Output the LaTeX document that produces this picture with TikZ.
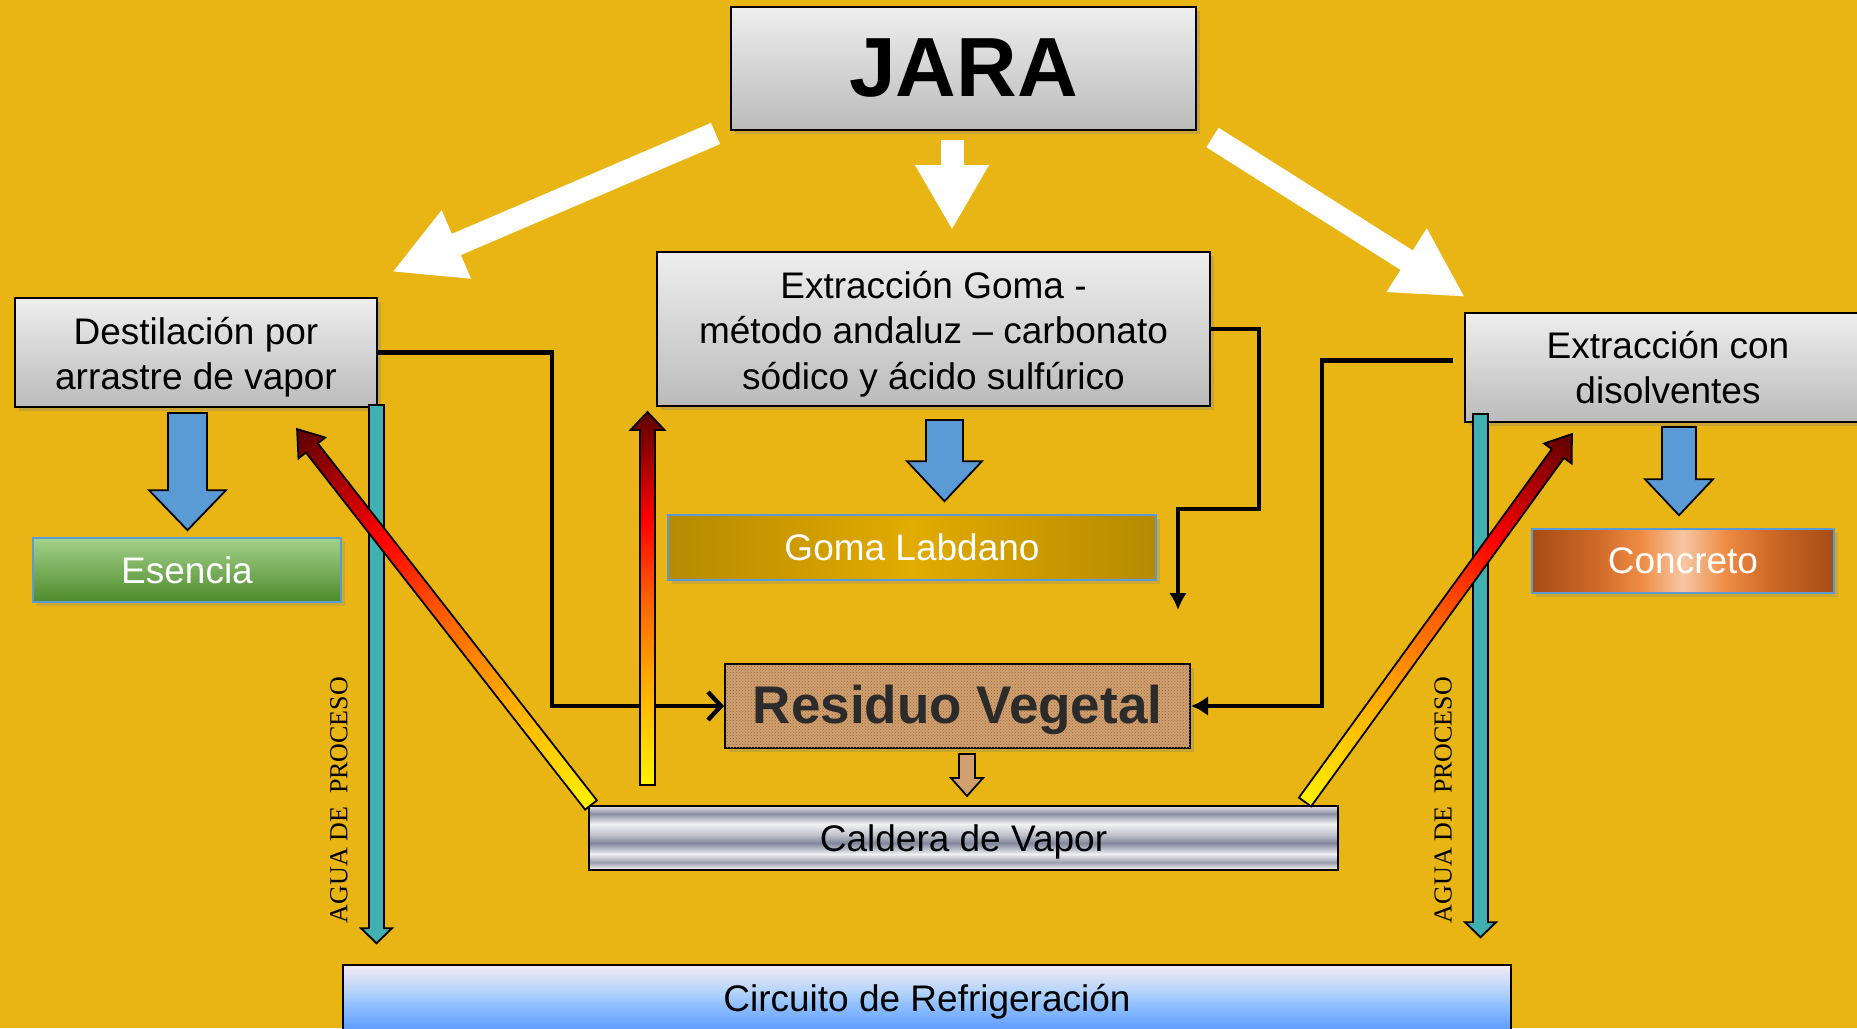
\documentclass[tikz,border=0pt]{standalone}
\usepackage{fontspec}
\setmainfont{Liberation Sans}
\newfontfamily\aguafont{Liberation Serif}
\usetikzlibrary{arrows.meta,calc,shadows,patterns}

\definecolor{fondo}{HTML}{E8B514}
\definecolor{cajatop}{HTML}{EEEEEE}
\definecolor{cajabot}{HTML}{BBBBBB}
\definecolor{marco}{HTML}{5B9BD5}
\definecolor{esentop}{HTML}{A3D18A}
\definecolor{esenbot}{HTML}{4E8A2C}
\definecolor{labedge}{HTML}{B68A00}
\definecolor{labmid}{HTML}{E2AB00}
\definecolor{corcho}{HTML}{D0A070}
\definecolor{corchodark}{HTML}{9A6A3E}
\definecolor{azulflecha}{HTML}{5B9BD5}
\definecolor{agua}{HTML}{40B0B0}
\definecolor{textoresiduo}{HTML}{2B2B2B}
\definecolor{cal1}{HTML}{FFF200}
\definecolor{cal2}{HTML}{FFA500}
\definecolor{cal3}{HTML}{FF6000}
\definecolor{cal4}{HTML}{FF0000}
\definecolor{cal5}{HTML}{5C0000}
\definecolor{conc1}{HTML}{A54C14}
\definecolor{conc2}{HTML}{D06A28}
\definecolor{conc3}{HTML}{EE8C44}
\definecolor{conc4}{HTML}{F7C6A3}
\definecolor{ac1}{HTML}{E4E4EA}
\definecolor{ac2}{HTML}{8A8EA0}
\definecolor{ac3}{HTML}{F2F2F4}
\definecolor{ac4}{HTML}{C0C2CC}
\definecolor{ac5}{HTML}{80859A}
\definecolor{ac6}{HTML}{F0F0F2}
\definecolor{ac7}{HTML}{9A9EAE}
\definecolor{ac8}{HTML}{FFFFFF}
\definecolor{fr1}{HTML}{F5E9F5}
\definecolor{fr2}{HTML}{B4D4FA}
\definecolor{fr3}{HTML}{90C0FF}
\definecolor{fr4}{HTML}{5C9CFF}

\pgfdeclarehorizontalshading{calor}{100bp}{color(0bp)=(cal1); color(25bp)=(cal1); color(40bp)=(cal2); color(50bp)=(cal3); color(60.5bp)=(cal4); color(75bp)=(cal5); color(100bp)=(cal5)}
\pgfdeclarehorizontalshading{concreto}{100bp}{color(0bp)=(conc1); color(25bp)=(conc1); color(36bp)=(conc2); color(43bp)=(conc3); color(50bp)=(conc4); color(57bp)=(conc3); color(64bp)=(conc2); color(75bp)=(conc1); color(100bp)=(conc1)}
\pgfdeclarehorizontalshading{labdano}{100bp}{color(0bp)=(labedge); color(25bp)=(labedge); color(50bp)=(labmid); color(75bp)=(labedge); color(100bp)=(labedge)}
\pgfdeclareverticalshading{acero}{100bp}{color(0bp)=(ac8); color(25bp)=(ac8); color(31bp)=(ac7); color(37.5bp)=(ac6); color(46bp)=(ac5); color(52.5bp)=(ac4); color(61bp)=(ac3); color(69bp)=(ac2); color(75bp)=(ac1); color(100bp)=(ac1)}
\pgfdeclareverticalshading{frio}{100bp}{color(0bp)=(fr4); color(25bp)=(fr4); color(45bp)=(fr3); color(55bp)=(fr2); color(75bp)=(fr1); color(100bp)=(fr1)}

\tikzset{
  caja/.style={draw=black, line width=2pt, top color=cajatop, bottom color=cajabot,
    align=center, inner sep=0pt, font=\fontsize{37}{45.5}\selectfont,
    drop shadow={shadow xshift=4pt, shadow yshift=-4pt, opacity=0.3}},
  producto/.style={draw=marco, line width=1.6pt, text=white, inner sep=0pt,
    font=\fontsize{37}{45.5}\selectfont,
    drop shadow={shadow xshift=4pt, shadow yshift=-4pt, opacity=0.25}},
  conector/.style={draw=black, line width=4.4pt},
  flechablanca/.style={draw=white, line width=23pt},
  bloque/.style={fill=azulflecha, draw=black, line width=1.8pt},
  aguaflecha/.style={fill=agua, draw=black, line width=1.8pt},
  calorflecha/.style={shade, shading=calor, draw=black, line width=1.8pt},
  corchoflecha/.style={fill=corcho, draw=black, line width=1.8pt},
  aguatexto/.style={font=\aguafont\fontsize{26}{26}\selectfont, inner sep=0pt}
}

\newcommand\blockarrow[6]{%
  \path let \p1=(#2), \p2=(#3) in
    \pgfextra{\pgfmathparse{atan2(\y2-\y1,\x2-\x1)}\xdef\bang{\pgfmathresult}%
              \pgfmathparse{veclen(\x2-\x1,\y2-\y1)}\xdef\blen{\pgfmathresult}};%
  \begin{scope}[transform canvas={shift={(#2)},rotate=\bang}]
    \path[#1] (0,-#4) -- ({\blen-#6},-#4) -- ({\blen-#6},-#5) -- (\blen,0)
      -- ({\blen-#6},#5) -- ({\blen-#6},#4) -- (0,#4) -- cycle;
  \end{scope}}

\begin{document}
\begin{tikzpicture}[x=1pt,y=1pt]
  \useasboundingbox (0,0) rectangle (1857,-1028);
  \fill[fondo] (0,0) rectangle (1857,-1028);

  \node[caja, minimum width=465pt, minimum height=123pt, font=\fontsize{84}{84}\selectfont\bfseries] (jara) at (963.5,-68.5) {JARA};
  \node[caja, minimum width=362pt, minimum height=109pt] (dest) at (196,-352.5) {\rule{0pt}{37pt}Destilación por\\arrastre de vapor};
  \node[caja, minimum width=553pt, minimum height=154pt] (goma) at (933.5,-329) {\rule{0pt}{37pt}Extracción Goma -\\método andaluz – carbonato\\sódico y ácido sulfúrico};
  \node[caja, minimum width=406pt, minimum height=109pt] (disol) at (1668,-367.5) {Extracción con\\disolventes};

  \coordinate (w1i) at ($(jara.south west)+(-14.5,-2.5)$);
  \coordinate (w1f) at ($(dest.north east)+(14,25)$);
  \coordinate (w2i) at ($(jara.south)+(-11.5,-9)$);
  \coordinate (w2f) at ($(goma.north)+(18.5,21)$);
  \coordinate (w3i) at ($(jara.south east)+(15.5,-6.5)$);
  \coordinate (w3f) at ($(disol.north west)+(1,15)$);
  \draw[flechablanca, -{Triangle[length=70pt,width=69pt]}] (w1i) -- (w1f);
  \draw[flechablanca, -{Triangle[length=65pt,width=69pt]}] (w2i) -- (w2f);
  \draw[flechablanca, -{Triangle[length=69pt,width=70pt]}] (w3i) -- (w3f);

  \node[producto, top color=esentop, bottom color=esenbot, minimum width=308pt, minimum height=64pt] (esencia) at (187,-570) {Esencia};
  \node[producto, shade, shading=labdano, minimum width=488pt, minimum height=65pt] (labdano) at (912,-547.5) {Goma Labdano};
  \node[producto, shade, shading=concreto, minimum width=302pt, minimum height=64pt] (concreto) at (1683,-561) {Concreto};
  \node[draw=black, line width=2pt, fill=corcho, postaction={pattern=crosshatch dots, pattern color=corchodark},
    minimum width=465pt, minimum height=84pt, inner sep=0pt, text=textoresiduo, text height=46pt,
    font=\fontsize{53}{53}\selectfont\bfseries,
    drop shadow={shadow xshift=4pt, shadow yshift=-4pt, opacity=0.3}] (residuo) at (957.5,-706) {Residuo Vegetal};
  \node[draw=black, line width=2pt, shade, shading=acero, minimum width=749pt, minimum height=64pt, inner sep=0pt,
    text height=35pt, font=\fontsize{37}{37}\selectfont] (caldera) at (963.5,-838) {Caldera de Vapor};
  \node[draw=black, line width=1.5pt, shade, shading=frio, minimum width=1168pt, minimum height=66pt, inner sep=0pt,
    text height=35pt, font=\fontsize{37}{37}\selectfont] (circuito) at (927,-998) {Circuito de Refrigeración};

  \coordinate (gomafin) at (1178,-610);
  \draw[conector, -{Straight Barb[length=13pt,width=28pt]}] (dest.east) -- ++(174,0) |- (residuo.west);
  \draw[conector, -{Latex[length=17pt,width=18pt]}] (goma.east) -- ++(48,0) -- ++(0,-180) -| (gomafin);
  \draw[conector, -{Latex[length=17pt,width=20pt]}] ([shift={(-11pt,7pt)}]disol.west) -- ++(-131,0) |- (residuo.east);

  \coordinate (b1i) at ($(esencia.north |- dest.south)+(0.5,-5)$);
  \coordinate (b1f) at ($(esencia.north)+(0.5,7)$);
  \coordinate (b2i) at ($(goma.south)+(11,-13)$);
  \coordinate (b2f) at ($(goma.south |- labdano.north)+(11,13)$);
  \coordinate (b3i) at ($(disol.south)+(11,-4)$);
  \coordinate (b3f) at ($(disol.south |- concreto.north)+(11,13)$);
  \coordinate (b4i) at ($(residuo.south)+(9.5,-5)$);
  \coordinate (b4f) at ($(residuo.south |- caldera.north)+(9.5,9)$);
  \blockarrow{bloque}{b1i}{b1f}{19.5}{38.5}{40}
  \blockarrow{bloque}{b2i}{b2f}{18.5}{37.5}{40}
  \blockarrow{bloque}{b3i}{b3f}{17}{34}{36}
  \blockarrow{corchoflecha}{b4i}{b4f}{8}{16}{18}

  \coordinate (a1i) at ($(dest.south east)+(-1.5,3)$);
  \coordinate (a1f) at ($(dest.south east |- circuito.north)+(-1.5,21)$);
  \coordinate (a2i) at ($(disol.south west)+(16.5,9)$);
  \coordinate (a2f) at ($(disol.south west |- circuito.north)+(16.5,27)$);
  \blockarrow{aguaflecha}{a1i}{a1f}{7.5}{15.5}{15}
  \blockarrow{aguaflecha}{a2i}{a2f}{7.5}{15.5}{15}

  \coordinate (c1i) at ($(caldera.north west)+(59.5,20)$);
  \coordinate (c1f) at ($(goma.south west)+(-8.5,-5)$);
  \coordinate (c2i) at ($(caldera.north west)+(3,0)$);
  \coordinate (c2f) at ($(dest.south east)+(-81,-21)$);
  \coordinate (c3i) at ($(caldera.north east)+(-34,3)$);
  \coordinate (c3f) at ($(disol.south west)+(108,-11)$);
  \blockarrow{calorflecha}{c1i}{c1f}{7.5}{17}{18}
  \blockarrow{calorflecha}{c2i}{c2f}{7.5}{17}{24}
  \blockarrow{calorflecha}{c3i}{c3f}{7.5}{17}{24}

  \node[aguatexto, rotate=90] (agua1) at (339,-800) {AGUA DE\ \ PROCESO};
  \node[aguatexto, rotate=90] (agua2) at (1443,-800) {AGUA DE\ \ PROCESO};
\end{tikzpicture}
\end{document}
